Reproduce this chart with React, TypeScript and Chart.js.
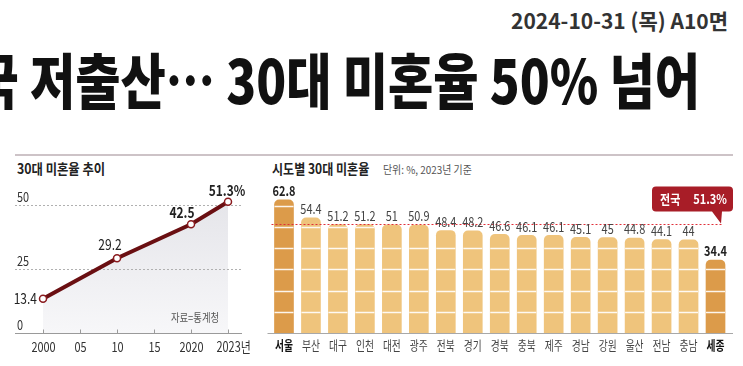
import React, { useEffect, useRef } from 'react';
import { Chart, registerables } from 'chart.js';

Chart.register(...registerables);

const KR = '"Noto Sans CJK KR", "Noto Sans", sans-serif';

// ---- Left chart data: 30대 미혼율 추이 ----
const trendYears = [2000, 2010, 2020, 2023];
const trendRates = [13.4, 29.2, 42.5, 51.3];
const trendValueLabels = ['13.4', '29.2', '42.5', '51.3%'];
const trendTickYears = [2000, 2005, 2010, 2015, 2020, 2023];
const trendTickLabels = ['2000', '05', '10', '15', '2020', '2023년'];
const trendYTicks = [0, 25, 50];
const trendYTickLabels = ['0', '25', '50'];

// ---- Right chart data: 시도별 30대 미혼율 ----
const regions = ['서울', '부산', '대구', '인천', '대전', '광주', '전북', '경기', '경북', '충북', '제주', '경남', '강원', '울산', '전남', '충남', '세종'];
const regionRates = [62.8, 54.4, 51.2, 51.2, 51, 50.9, 48.4, 48.2, 46.6, 46.1, 46.1, 45.1, 45, 44.8, 44.1, 44, 34.4];
const highlightRegions = ['서울', '세종'];
const nationalRate = 51.3;
const nationalLabel = ['전국', '51.3%'];
const barGridValues = [10, 20, 30, 40, 50, 60];

function drawText(
  ctx: CanvasRenderingContext2D,
  s: string,
  x: number,
  y: number,
  size: number,
  weight: string,
  color: string,
  align: CanvasTextAlign,
  sx = 0.8
) {
  ctx.save();
  ctx.translate(x, y);
  ctx.scale(sx, 1);
  ctx.font = `${weight} ${size}px ${KR}`;
  ctx.fillStyle = color;
  ctx.textAlign = align;
  ctx.textBaseline = 'middle';
  ctx.fillText(s, 0, 0);
  ctx.restore();
}

// the trend axis places its tick years at equal spacing
const yearSlot = (yr: number) => trendTickYears.indexOf(yr);

// label offsets (style) for the trend values
const trendLabelStyle = [
  { dx: -6, dy: 0, align: 'right', weight: '400' },
  { dx: -7, dy: -14, align: 'center', weight: '400' },
  { dx: -9, dy: -12, align: 'center', weight: '700' },
  { dx: -1, dy: -11, align: 'center', weight: '700' },
];

const trendPlugin = {
  id: 'trendDecor',
  beforeDatasetsDraw(chart: any) {
    const { ctx, chartArea: a, scales } = chart;
    const x = scales.x;
    const y = scales.y;
    ctx.save();
    // dotted grid lines
    ctx.strokeStyle = '#b0b0b0';
    ctx.lineWidth = 1;
    ctx.setLineDash([2, 2]);
    trendYTicks.forEach((v) => {
      if (v === 0) return;
      const py = Math.round(y.getPixelForValue(v)) + 0.5;
      ctx.beginPath();
      ctx.moveTo(a.left, py);
      ctx.lineTo(a.right, py);
      ctx.stroke();
    });
    ctx.setLineDash([]);
    // base axis
    const y0 = Math.round(y.getPixelForValue(0)) + 0.5;
    ctx.strokeStyle = '#9a9a9a';
    ctx.beginPath();
    ctx.moveTo(a.left, y0);
    ctx.lineTo(a.right, y0);
    ctx.stroke();
    // x ticks
    trendTickYears.forEach((yr, i) => {
      const px = Math.round(x.getPixelForValue(yearSlot(yr))) + 0.5;
      ctx.beginPath();
      ctx.moveTo(px, y0 - 4);
      ctx.lineTo(px, y0);
      ctx.stroke();
      const lbl = trendTickLabels[i];
      if (lbl.endsWith('년')) {
        drawText(ctx, lbl, px - 12, y0 + 13, 14, '400', '#333', 'left', 0.78);
      } else {
        drawText(ctx, lbl, px, y0 + 13, 14, '400', '#333', 'center', 0.78);
      }
    });
    // y tick labels (above grid lines)
    trendYTicks.forEach((v, i) => {
      const py = y.getPixelForValue(v);
      drawText(ctx, trendYTickLabels[i], a.left + 2, py - 8, 14, '400', '#333', 'left', 0.78);
    });
    ctx.restore();
  },
  afterDatasetsDraw(chart: any) {
    const { ctx, chartArea: a } = chart;
    const meta = chart.getDatasetMeta(0);
    meta.data.forEach((pt: any, i: number) => {
      const st = trendLabelStyle[i];
      drawText(ctx, trendValueLabels[i], pt.x + st.dx, pt.y + st.dy, 15, st.weight, '#222', st.align as CanvasTextAlign, 0.8);
    });
    drawText(ctx, '자료=통계청', a.right - 47, a.bottom - 15, 11, '400', '#555', 'center', 0.85);
  },
};

const barPlugin = {
  id: 'barDecor',
  afterDatasetsDraw(chart: any) {
    const { ctx, chartArea: a, scales } = chart;
    const y = scales.y;
    const meta = chart.getDatasetMeta(0);
    ctx.save();
    // white stripes across bars
    ctx.strokeStyle = 'rgba(255,255,255,0.9)';
    ctx.lineWidth = 1.5;
    meta.data.forEach((bar: any, i: number) => {
      barGridValues.forEach((v) => {
        if (v >= regionRates[i] - 1) return;
        const py = Math.round(y.getPixelForValue(v)) + 0.5;
        ctx.beginPath();
        ctx.moveTo(bar.x - bar.width / 2, py);
        ctx.lineTo(bar.x + bar.width / 2, py);
        ctx.stroke();
      });
    });
    // baseline
    const y0 = Math.round(y.getPixelForValue(0)) + 0.5;
    ctx.strokeStyle = '#a8a8a8';
    ctx.lineWidth = 1;
    ctx.beginPath();
    ctx.moveTo(a.left - 3, y0);
    ctx.lineTo(a.right + 4, y0);
    ctx.stroke();
    // national average dashed line
    const pn = Math.round(y.getPixelForValue(nationalRate)) + 0.5;
    ctx.strokeStyle = '#e0303a';
    ctx.setLineDash([2, 2]);
    ctx.beginPath();
    ctx.moveTo(a.left + 1, pn);
    ctx.lineTo(a.right - 7, pn);
    ctx.stroke();
    ctx.setLineDash([]);
    // value labels + region labels
    meta.data.forEach((bar: any, i: number) => {
      const hi = highlightRegions.includes(regions[i]);
      drawText(ctx, String(regionRates[i]), bar.x, bar.y - 9, 14, hi ? '700' : '400', hi ? '#222' : '#444', 'center', 0.78);
      drawText(ctx, regions[i], bar.x, y0 + 12, 13, hi ? '700' : '400', hi ? '#111' : '#444', 'center', 0.75);
    });
    // callout
    const tipX = a.right - 8;
    const bx1 = a.right - 77;
    const bx2 = a.right + 4;
    const by1 = pn - 38;
    const by2 = pn - 13;
    const r = 4;
    ctx.fillStyle = '#a81d27';
    ctx.beginPath();
    ctx.moveTo(bx1 + r, by1);
    ctx.lineTo(bx2 - r, by1);
    ctx.quadraticCurveTo(bx2, by1, bx2, by1 + r);
    ctx.lineTo(bx2, by2 - r);
    ctx.quadraticCurveTo(bx2, by2, bx2 - r, by2);
    ctx.lineTo(tipX + 1, by2);
    ctx.lineTo(tipX, pn - 1);
    ctx.lineTo(tipX - 9, by2);
    ctx.lineTo(bx1 + r, by2);
    ctx.quadraticCurveTo(bx1, by2, bx1, by2 - r);
    ctx.lineTo(bx1, by1 + r);
    ctx.quadraticCurveTo(bx1, by1, bx1 + r, by1);
    ctx.closePath();
    ctx.fill();
    const cy = (by1 + by2) / 2;
    drawText(ctx, nationalLabel[0], bx1 + 8, cy, 13, '700', '#fff', 'left', 0.85);
    drawText(ctx, nationalLabel[1], bx2 - 6, cy, 13, '700', '#fff', 'right', 0.85);
    ctx.restore();
  },
};

function TrendChart() {
  const ref = useRef<HTMLCanvasElement>(null);
  useEffect(() => {
    const chart = new Chart(ref.current!, {
      type: 'line',
      data: {
        datasets: [
          {
            data: trendYears.map((yr, i) => ({ x: yearSlot(yr), y: trendRates[i] })),
            borderColor: '#6a0f12',
            borderWidth: 4,
            pointRadius: 3.5,
            pointBackgroundColor: '#ffffff',
            pointBorderColor: '#8a1a1e',
            pointBorderWidth: 1.5,
            tension: 0,
            fill: 'origin',
            backgroundColor: (c: any) => {
              const area = c.chart.chartArea;
              if (!area) return '#ececf0';
              const g = c.chart.ctx.createLinearGradient(0, area.top, 0, area.bottom);
              g.addColorStop(0, '#e2e2e7');
              g.addColorStop(1, '#f7f7f9');
              return g;
            },
            clip: false as any,
          },
        ],
      },
      options: {
        animation: false,
        responsive: false,
        layout: { padding: { left: 15, right: 13, top: 29.4, bottom: 33 } },
        scales: {
          x: { type: 'linear', min: -0.757, max: 5.378, display: false },
          y: { min: 0, max: 60, display: false },
        },
        plugins: {
          legend: { display: false },
          tooltip: { enabled: false },
          filler: { drawTime: 'beforeDraw' } as any,
        },
      },
      plugins: [trendPlugin],
    });
    return () => chart.destroy();
  }, []);
  return <canvas ref={ref} width={255} height={216} style={{ position: 'absolute', left: 0, top: 150, width: 255, height: 216 }} />;
}

function RegionChart() {
  const ref = useRef<HTMLCanvasElement>(null);
  useEffect(() => {
    const chart = new Chart(ref.current!, {
      type: 'bar',
      data: {
        labels: regions,
        datasets: [
          {
            data: regionRates,
            backgroundColor: regions.map((r) => (highlightRegions.includes(r) ? '#dc9b4a' : '#efc47c')),
            borderRadius: { topLeft: 5, topRight: 5, bottomLeft: 0, bottomRight: 0 },
            borderSkipped: false,
            barThickness: 19,
          },
        ],
      },
      options: {
        animation: false,
        responsive: false,
        layout: { padding: { left: 15.5, right: 14, top: 34.7, bottom: 33 } },
        scales: {
          x: { display: false, offset: true },
          y: { min: 0, max: 70, display: false },
        },
        plugins: { legend: { display: false }, tooltip: { enabled: false } },
      },
      plugins: [barPlugin],
    });
    return () => chart.destroy();
  }, []);
  return <canvas ref={ref} width={488} height={216} style={{ position: 'absolute', left: 255, top: 150, width: 488, height: 216 }} />;
}

export default function App() {
  return (
    <div
      style={{
        position: 'fixed',
        left: 0,
        top: 0,
        width: 743,
        height: 366,
        background: '#fff',
        overflow: 'hidden',
        fontFamily: KR,
      }}
    >
      <div
        style={{
          position: 'absolute',
          right: 15,
          top: 9,
          fontSize: 21,
          lineHeight: '22px',
          fontWeight: 700,
          color: '#333',
          whiteSpace: 'nowrap',
          transform: 'scaleX(1)',
          transformOrigin: 'right center',
        }}
      >
        2024-10-31 (목) A10면
      </div>
      <div
        style={{
          position: 'absolute',
          right: 43,
          top: 46,
          fontSize: 60,
          lineHeight: '64px',
          fontWeight: 900,
          color: '#111',
          whiteSpace: 'nowrap',
          transform: 'scaleX(0.82)',
          transformOrigin: 'right center',
        }}
      >
        국 저출산… 30대 미혼율 50% 넘어
      </div>
      <div style={{ position: 'absolute', left: 15, top: 154, width: 718, height: 2, background: '#cdc3c7' }} />
      <div
        style={{
          position: 'absolute',
          left: 17,
          top: 159,
          fontSize: 14,
          lineHeight: '18px',
          fontWeight: 700,
          color: '#222',
          whiteSpace: 'nowrap',
          transform: 'scaleX(0.88)',
          transformOrigin: 'left center',
        }}
      >
        30대 미혼율 추이
      </div>
      <div
        style={{
          position: 'absolute',
          left: 272,
          top: 159,
          fontSize: 14,
          lineHeight: '18px',
          fontWeight: 700,
          color: '#222',
          whiteSpace: 'nowrap',
          transform: 'scaleX(0.86)',
          transformOrigin: 'left center',
        }}
      >
        시도별 30대 미혼율
      </div>
      <div
        style={{
          position: 'absolute',
          left: 383,
          top: 161,
          fontSize: 11,
          lineHeight: '16px',
          color: '#555',
          whiteSpace: 'nowrap',
          transform: 'scaleX(0.9)',
          transformOrigin: 'left center',
        }}
      >
        단위: %, 2023년 기준
      </div>
      <TrendChart />
      <RegionChart />
    </div>
  );
}
